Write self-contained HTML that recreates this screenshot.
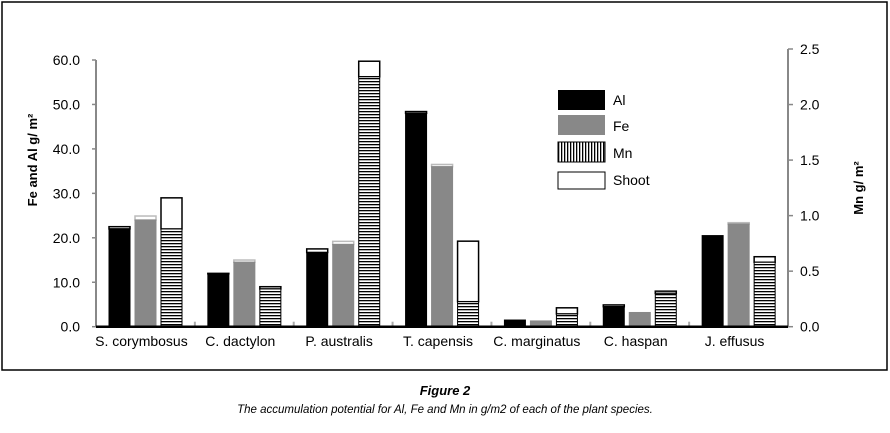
<!DOCTYPE html>
<html><head><meta charset="utf-8"><style>
body{margin:0;background:#fff;width:890px;height:428px;overflow:hidden;font-family:"Liberation Sans",sans-serif}
</style></head><body>
<svg width="890" height="428" id="svg" xmlns="http://www.w3.org/2000/svg">
<defs>
<pattern id="hstripe" width="4" height="3" patternUnits="userSpaceOnUse"><rect width="4" height="3" fill="#fff"/><rect width="4" height="1.3" fill="#000"/></pattern>
<pattern id="vstripe" width="3" height="4" patternUnits="userSpaceOnUse"><rect width="3" height="4" fill="#fff"/><rect width="1.3" height="4" fill="#000"/></pattern>
</defs>
<rect x="2" y="2" width="885" height="368" fill="none" stroke="#000" stroke-width="1.5"/>
<g id="plot"></g>
<g font-size="14">
<rect x="558" y="90" width="47" height="20" fill="#000"/>
<text x="613" y="105">Al</text>
<rect x="558" y="115" width="47" height="20" fill="#888"/>
<text x="613" y="131">Fe</text>
<rect x="558" y="142" width="47" height="20" fill="url(#vstripe)" stroke="#000"/>
<text x="613" y="158">Mn</text>
<rect x="558" y="172" width="47" height="17" fill="#fff" stroke="#000"/>
<text x="613" y="185">Shoot</text>
</g>
<text transform="translate(37,160) rotate(-90)" text-anchor="middle" font-size="13" font-weight="bold">Fe and Al  g/ m²</text>
<text transform="translate(863,188) rotate(-90)" text-anchor="middle" font-size="13" font-weight="bold">Mn g/ m²</text>
<text x="445" y="395" text-anchor="middle" font-size="13" font-weight="bold" font-style="italic">Figure 2</text>
<text x="445" y="413" text-anchor="middle" font-size="11.5" font-style="italic">The accumulation potential for Al, Fe and Mn in g/m2 of each of the plant species.</text>
</svg>
<script>
const categories=["S. corymbosus","C. dactylon","P. australis","T. capensis","C. marginatus","C. haspan","J. effusus"];
const alRoot=[22.0,11.9,16.7,48.0,1.5,4.5,20.5];
const alTotal=[22.5,12.0,17.5,48.4,1.5,4.9,20.5];
const feRoot=[24.0,14.5,18.5,36.0,1.3,3.2,23.1];
const feTotal=[24.9,15.0,19.2,36.5,1.3,3.2,23.4];
const mnRoot=[0.88,0.34,2.25,0.225,0.115,0.30,0.58];
const mnTotal=[1.16,0.36,2.39,0.77,0.17,0.32,0.63];
const leftTicks=["0.0","10.0","20.0","30.0","40.0","50.0","60.0"];
const rightTicks=["0.0","0.5","1.0","1.5","2.0","2.5"];

const NS="http://www.w3.org/2000/svg";
const g=document.getElementById('plot');
const X0=96,X1=788,Y0=326.7;
const yL=v=>Y0-v*(266.7/60);
const yR=v=>Y0-v*(277.7/2.5);
const gw=(X1-X0)/categories.length;
const xBar=(i,k)=>X0+i*gw+13+k*26;
function el(t,a){const e=document.createElementNS(NS,t);for(const k in a)e.setAttribute(k,a[k]);g.appendChild(e);return e;}
let e=el('line',{x1:X0,y1:yL(0),x2:X0,y2:yL(60),stroke:'#888','stroke-width':2});

e=el('line',{x1:X1,y1:yR(0),x2:X1,y2:yR(2.5),stroke:'#888','stroke-width':2});

leftTicks.forEach(t=>{const v=parseFloat(t);
 el('line',{x1:X0-4,x2:X0,y1:yL(v),y2:yL(v),stroke:'#888','stroke-width':1.5});
 const tx=el('text',{x:X0-16,y:yL(v)+5,'text-anchor':'end','font-size':14});tx.textContent=t;
 });
rightTicks.forEach(t=>{const v=parseFloat(t);
 el('line',{x1:X1,x2:X1+5,y1:yR(v),y2:yR(v),stroke:'#888','stroke-width':1.5});
 const tx=el('text',{x:X1+12,y:yR(v)+5,'font-size':14});tx.textContent=t;
 });
function bar(x,yTop,yRoot,fill,shootStroke,name){
 const w=21;
 const s=el('rect',{x:x,y:yTop,width:w,height:Math.max(0,yRoot-yTop),fill:'#fff',stroke:shootStroke,'stroke-width':1.5});
 
 const r=el('rect',{x:x,y:yRoot,width:w,height:Math.max(0,Y0-yRoot),fill:fill,stroke:fill==='#888'?'#888':'#000','stroke-width':1});
 
}
categories.forEach((c,i)=>{
 bar(xBar(i,0),yL(alTotal[i]),yL(alRoot[i]),'#000','#000','bar-al');
 bar(xBar(i,1),yL(feTotal[i]),yL(feRoot[i]),'#888','#bbb','bar-fe');
 bar(xBar(i,2),yR(mnTotal[i]),yR(mnRoot[i]),'url(#hstripe)','#000','bar-mn');
 const tx=el('text',{x:X0+i*gw+gw/2-4,y:346,'text-anchor':'middle','font-size':14});tx.textContent=c;
 
 if(i>0){el('line',{x1:X0+i*gw,x2:X0+i*gw,y1:Y0-5,y2:Y0,stroke:'#aaa','stroke-width':2});}
});
e=el('line',{x1:X0,y1:Y0,x2:X1,y2:Y0,stroke:'#000','stroke-width':2.5});

</script>
</body></html>
